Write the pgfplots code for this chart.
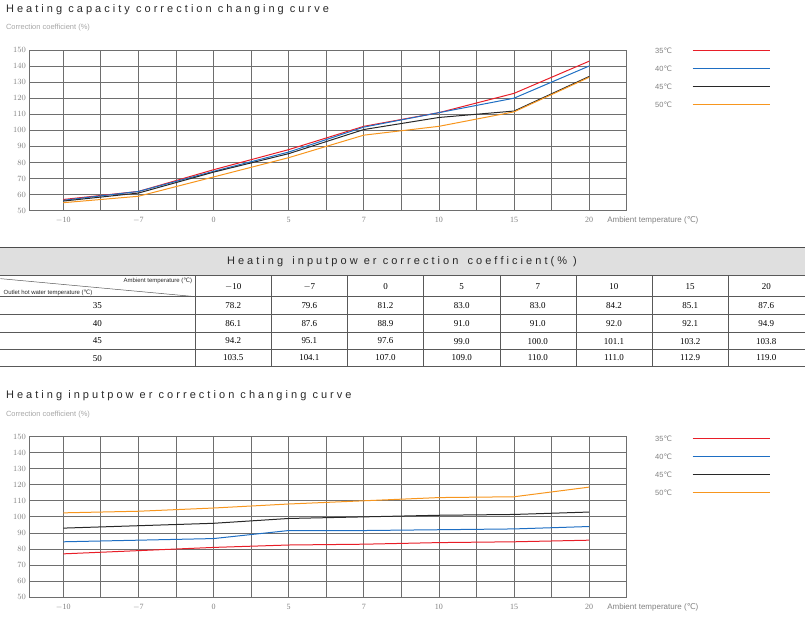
\documentclass[border=0pt]{standalone}
\usepackage{pgfplots}
\pgfplotsset{compat=1.18}
\usepackage{fontspec}
\setmainfont{Liberation Sans}
\newfontfamily\ser{Liberation Serif}
\newfontfamily\djv{DejaVu Sans}
\definecolor{cR}{RGB}{232,30,40}
\definecolor{cB}{RGB}{30,110,195}
\definecolor{cK}{RGB}{40,40,40}
\definecolor{cO}{RGB}{247,150,30}
\definecolor{gridc}{RGB}{110,110,110}
\newcommand{\degC}{{\djv\char"2103}}
\pgfplotsset{mychart/.style={
  scale only axis, width=598pt, height=161pt,
  xmin=-0.45, xmax=7.5, ymin=50, ymax=150,
  xtick={0,...,7}, xticklabels={$-$10,$-$7,0,5,7,10,15,20},
  minor xtick={0.5,1.5,...,7.5},
  ytick={50,60,...,150},
  grid=both, major grid style={gridc, line width=0.8pt}, minor grid style={gridc, line width=0.8pt},
  axis lines=left, axis line style={gridc,line width=0.8pt,-},
  tick style={draw=none},
  tick label style={font=\ser\fontsize{8}{9}\selectfont, text=gray},
  xticklabel style={yshift=-1pt},
  yticklabel style={xshift=2pt},
  every axis plot/.style={line width=1pt, mark=none},
  clip=false,
}}
\begin{document}
\begin{tikzpicture}[x=1pt,y=1pt]
\path (0,0) rectangle (805,-641);
% ---------- top chart
\node[anchor=west,font=\fontsize{11}{12}\selectfont,text=cK] at (2,-10) {H e a t i n g \ c a p a c i t y \ c o r r e c t i o n \ c h a n g i n g \ c u r v e};
\node[anchor=west,font=\fontsize{7.5}{9}\selectfont,text=gray!70] at (2,-28) {Correction coefficient (\%)};
\begin{axis}[mychart, at={(29pt,-211pt)}, anchor=south west]
\addplot[cR] coordinates {(0,57)(1,62)(2,75.5)(3,88)(4,102.5)(5,111)(6,123)(7,143)};
\addplot[cB] coordinates {(0,56.5)(1,62)(2,74.5)(3,86.5)(4,102)(5,111)(6,120)(7,140)};
\addplot[cK] coordinates {(0,56)(1,61)(2,74)(3,85.5)(4,100.5)(5,108)(6,112)(7,133.5)};
\addplot[cO] coordinates {(0,55)(1,59)(2,71)(3,83)(4,97)(5,102.5)(6,111.5)(7,133)};
\end{axis}
\node[anchor=west,font=\fontsize{8}{9}\selectfont,text=gray] at (604,-221) {Ambient temperature (\degC)};
\foreach \cc/\tt [count=\i] in {cR/35,cB/40,cK/45,cO/50}{
  \node[anchor=west,font=\fontsize{7.5}{9}\selectfont,text=gray] at (652,-33-18*\i) {\tt\degC};
  \draw[\cc,line width=1pt] (693,-33-18*\i) -- (770,-33-18*\i);
}
% ---------- table
\fill[gray!25] (0,-248) rectangle (805,-276);
\draw[gray!60!black,line width=1pt] (0,-248) -- (805,-248);
\node[font=\fontsize{11}{12}\selectfont,text=cK] at (402,-262) {H e a t i n g \ \ i n p u t p o w \ e r \ c o r r e c t i o n \ \ c o e f f i c i e n t ( \% \ )};
\draw[gray!70!black,line width=0.6pt] (0,-276) -- (805,-276);
\foreach \yy in {297,315,333,350,367} \draw[gray!70!black,line width=0.6pt] (0,-\yy) -- (805,-\yy);
\foreach \k in {0,...,7} \draw[gray!70!black,line width=0.6pt] (195+76.25*\k,-276) -- (195+76.25*\k,-367);
\draw[gray!70!black,line width=0.5pt] (0,-279) -- (195,-297);
\node[anchor=north east,font=\fontsize{6}{7}\selectfont,text=cK,inner sep=1pt] at (193,-277) {Ambient temperature (\degC)};
\node[anchor=south west,font=\fontsize{6}{7}\selectfont,text=cK,inner sep=1pt] at (2,-297) {Outlet hot water temperature (\degC)};
\foreach \hh [count=\k from 0] in {$-$10,$-$7,0,5,7,10,15,20}
  \node[font=\ser\fontsize{9}{10}\selectfont] at (233+76.25*\k,-287) {\hh};
\foreach \rr/\va/\vb/\vc/\vd/\ve/\vf/\vg/\vh/\yy in {
 35/78.2/79.6/81.2/83.0/83.0/84.2/85.1/87.6/306,
 40/86.1/87.6/88.9/91.0/91.0/92.0/92.1/94.9/324,
 45/94.2/95.1/97.6/99.0/100.0/101.1/103.2/103.8/341.5,
 50/103.5/104.1/107.0/109.0/110.0/111.0/112.9/119.0/358.5}{
  \node[font=\ser\fontsize{9}{10}\selectfont] at (97,-\yy) {\rr};
  \foreach \vv [count=\k from 0] in {\va,\vb,\vc,\vd,\ve,\vf,\vg,\vh}
    \node[font=\ser\fontsize{9}{10}\selectfont] at (233+76.25*\k,-\yy) {\vv};
}
% ---------- bottom chart
\node[anchor=west,font=\fontsize{11}{12}\selectfont,text=cK] at (2,-396) {H e a t i n g \ i n p u t p o w \ e r \ c o r r e c t i o n \ c h a n g i n g \ c u r v e};
\node[anchor=west,font=\fontsize{7.5}{9}\selectfont,text=gray!70] at (2,-415) {Correction coefficient (\%)};
\begin{axis}[mychart, at={(29pt,-598pt)}, anchor=south west]
\addplot[cR] coordinates {(0,77)(1,79)(2,81)(3,82.5)(4,83)(5,84)(6,84.5)(7,85.5)};
\addplot[cB] coordinates {(0,84.5)(1,85.5)(2,86.5)(3,91.5)(4,91.5)(5,92)(6,92.5)(7,94)};
\addplot[cK] coordinates {(0,93)(1,94.5)(2,96)(3,99)(4,100)(5,101)(6,101.5)(7,103)};
\addplot[cO] coordinates {(0,102.5)(1,103.5)(2,105.5)(3,108)(4,110)(5,112)(6,112.5)(7,118.5)};
\end{axis}
\node[anchor=west,font=\fontsize{8}{9}\selectfont,text=gray] at (604,-608) {Ambient temperature (\degC)};
\foreach \cc/\tt [count=\i] in {cR/35,cB/40,cK/45,cO/50}{
  \node[anchor=west,font=\fontsize{7.5}{9}\selectfont,text=gray] at (652,-421-18*\i) {\tt\degC};
  \draw[\cc,line width=1pt] (693,-421-18*\i) -- (770,-421-18*\i);
}
\end{tikzpicture}
\end{document}
